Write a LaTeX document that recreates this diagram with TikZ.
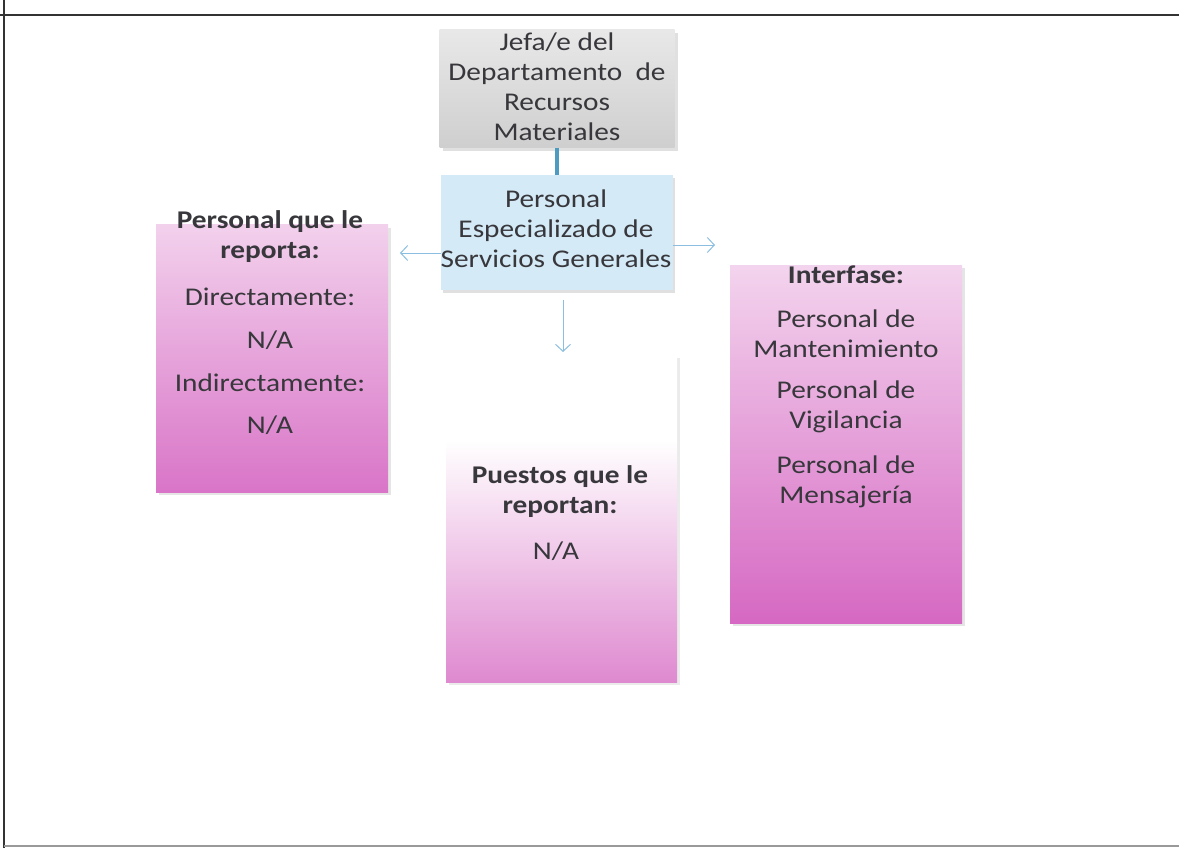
\documentclass[tikz,border=0pt]{standalone}
\usepackage{fontspec}
\setmainfont[FakeStretch=1.15]{Carlito}
\usetikzlibrary{arrows.meta}
\definecolor{txt}{RGB}{55,55,60}
\definecolor{mag}{RGB}{212,98,192}
\definecolor{teal}{RGB}{75,156,192}
\definecolor{arr}{RGB}{140,190,225}
\definecolor{bluebox}{RGB}{212,234,246}
\pgfdeclareverticalshading{leftshade}{100bp}{color(0bp)=(mag); color(15bp)=(mag); color(100bp)=(white)}
\pgfdeclareverticalshading{midshade}{100bp}{color(0bp)=(mag); color(15bp)=(mag!95); color(62bp)=(white); color(100bp)=(white)}
\pgfdeclareverticalshading{rightshade}{100bp}{color(0bp)=(mag); color(22bp)=(mag); color(95bp)=(white); color(100bp)=(white)}
\pgfdeclareverticalshading{grayshade}{100bp}{color(0bp)=(black!24); color(100bp)=(black!4)}
\begin{document}
\begin{tikzpicture}[x=1pt,y=-1pt,
  every node/.style={text=txt, font=\fontsize{25.5}{30}\selectfont, align=center, inner sep=0pt},
  boxshape/.style={rectangle, inner sep=0pt, draw=none},
  bold/.style={font=\fontsize{25.5}{30}\selectfont\bfseries},
  conn/.style={arr, line width=1pt, -{Straight Barb[length=7pt,width=15pt]}},
]
\useasboundingbox (0,0) rectangle (1179,848);
\fill[white] (0,0) rectangle (1179,848);
% frame
\draw[black!80, line width=2.5pt] (0,15) -- (1179,15);
\draw[black!80, line width=2.2pt] (4,0) -- (4,848);
\draw[black!40, line width=1.5pt] (4,846) -- (1179,846);

% shadows
\fill[black!12] (443,33) rectangle (678,151);
\fill[black!12] (443,178) rectangle (675,293);
\fill[black!10] (159,228) rectangle (391,495);
\fill[black!8] (449,358) rectangle (680,685);
\fill[black!10] (733,268) rectangle (965,626);

% boxes
\node[boxshape, shading=grayshade, minimum width=235pt, minimum height=118pt] (jefa) at (557,89) {};
\node[boxshape, fill=bluebox, minimum width=232pt, minimum height=115pt] (pesg) at (557,232.5) {};
\node[boxshape, shading=leftshade, minimum width=232pt, minimum height=267pt] (left) at (272,358.5) {};
\node[boxshape, shading=midshade, minimum width=231pt, minimum height=327pt] (mid) at (561.5,518.5) {};
\node[boxshape, shading=rightshade, minimum width=232pt, minimum height=358pt] (right) at (846,444) {};

% texts
\node (tjefa) at (557,87) {Jefa/e del\\Departamento~~de\\Recursos\\Materiales};
\node (tpesg) at (556,229) {Personal\\Especializado de\\Servicios Generales};

\node[bold] (tl1) at (270,237) {Personal que le\\reporta:};
\node (tl2) at (270,297) {Directamente:};
\node (tl3) at (270,340) {N/A};
\node (tl4) at (270,383) {Indirectamente:};
\node (tl5) at (270,425) {N/A};

\node[bold] (tm1) at (560,492) {Puestos que le\\reportan:};
\node (tm2) at (556,551) {N/A};

\node[bold] (tr1) at (846,275) {Interfase:};
\node (tr2) at (846,334) {Personal de\\Mantenimiento};
\node (tr3) at (846,407) {Personal de\\Vigilancia};
\node (tr4) at (846,482) {Personal de\\Mensajería};

% connectors
\draw[teal, line width=3.5pt] (jefa.south) -- (pesg.north);
\coordinate (la) at (400,253);
\coordinate (ra) at (715,245);
\coordinate (ds) at (563,300);
\coordinate (da) at (563,352);
\draw[conn] (pesg.west |- la) -- (la);
\draw[conn] (pesg.east |- ra) -- (ra);
\draw[conn] (ds) -- (da);
\end{tikzpicture}
\end{document}
